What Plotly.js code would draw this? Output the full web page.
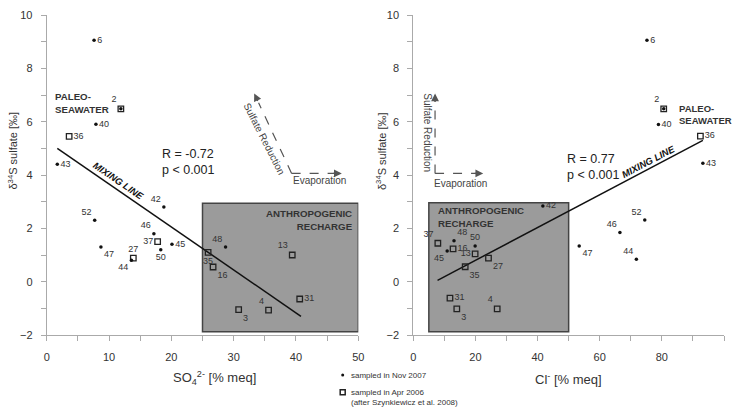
<!DOCTYPE html>
<html><head><meta charset="utf-8">
<script src="https://cdn.plot.ly/plotly-3.0.1.min.js"></script>
<style>html,body{margin:0;padding:0;background:#fff}#chart{width:732px;height:407px}</style>
</head><body><div id="chart"></div>
<script>
// ---- data: left panel (SO4) ----
const novIdsL = ['6','2','40','43','42','52','46','45','50','47','44','48'];
const novSO4  = [7.6, 11.9, 7.9, 1.7, 18.8, 7.7, 17.2, 20.1, 18.3, 8.7, 13.6, 28.7];
const novD34L = [9.05, 6.48, 5.9, 4.4, 2.8, 2.3, 1.8, 1.4, 1.2, 1.3, 0.8, 1.3];
const aprIdsL = ['2','36','37','27','35','16','13','31','3','4'];
const aprSO4  = [11.9, 3.6, 17.8, 13.9, 25.9, 26.7, 39.4, 40.6, 30.8, 35.6];
const aprD34L = [6.48, 5.45, 1.5, 0.88, 1.1, 0.55, 1.0, -0.65, -1.05, -1.07];
// ---- data: right panel (Cl) ----
const novIdsR = ['6','2','40','43','42','52','46','47','44','48','45','50'];
const novCl   = [75.2, 80.6, 78.9, 93.2, 41.7, 74.5, 66.5, 53.4, 71.8, 13.1, 10.9, 19.9];
const novD34R = [9.05, 6.48, 5.89, 4.44, 2.84, 2.31, 1.84, 1.34, 0.84, 1.53, 1.15, 1.34];
const aprIdsR = ['2','36','37','16','13','27','35','31','3','4'];
const aprCl   = [80.6, 92.4, 7.9, 12.8, 19.9, 24.2, 16.7, 11.8, 14.0, 27.0];
const aprD34R = [6.48, 5.46, 1.44, 1.23, 1.04, 0.88, 0.56, -0.62, -1.02, -1.02];
// mixing lines (end points)
const mixLX = [1.7, 40.8], mixLY = [5.0, -1.3];
const mixRX = [7.8, 93.2], mixRY = [0.05, 5.3];
const statsL = ['R = -0.72', 'p < 0.001'];
const statsR = ['R = 0.77', 'p < 0.001'];

// ---- label placement (style) ----
const novPosL = ['middle right','middle right','middle right','middle right','top left','top left','top left','middle right','bottom center','bottom right','bottom left','top left'];
const aprPosL = ['top left','middle right','middle left','top center','bottom center','bottom right','top left','middle right','bottom right','top left'];
const novPosR = ['middle right','middle right','middle right','middle right','middle right','top left','top left','bottom right','top left','top right','bottom left','top center'];
const aprPosR = ['top left','middle right','top left','middle right','middle left','bottom right','bottom right','middle right','bottom right','top left'];

const W = 732, H = 407;
const px = v => v / W, py = v => 1 - v / H;
const FAM = 'Liberation Sans, Arial, sans-serif';
const LAB = {family: FAM, size: 9, color: '#333'};
const novLabels = (ids, other) => ids.map(id => other.includes(id) ? '' : id);

function dots(x, y, ids, other, pos, xa, ya) {
  return {x, y, text: novLabels(ids, other), textposition: pos, mode: 'markers+text', type: 'scatter',
    xaxis: xa, yaxis: ya, marker: {size: 3.5, color: '#111'}, textfont: LAB, cliponaxis: false, showlegend: false, hoverinfo: 'skip'};
}
function squares(x, y, ids, pos, xa, ya) {
  return {x, y, text: ids, textposition: pos, mode: 'markers+text', type: 'scatter',
    xaxis: xa, yaxis: ya, marker: {symbol: 'square-open', size: 5.5, color: '#222', line: {width: 1.3, color: '#222'}},
    textfont: LAB, cliponaxis: false, showlegend: false, hoverinfo: 'skip'};
}
function line(x, y, xa, ya) {
  return {x, y, mode: 'lines', type: 'scatter', xaxis: xa, yaxis: ya, line: {color: '#111', width: 1.5}, showlegend: false, hoverinfo: 'skip'};
}

const traces = [
  line(mixLX, mixLY, 'x', 'y'),
  line(mixRX, mixRY, 'x2', 'y2'),
  squares(aprSO4, aprD34L, aprIdsL, aprPosL, 'x', 'y'),
  dots(novSO4, novD34L, novIdsL, aprIdsL, novPosL, 'x', 'y'),
  squares(aprCl, aprD34R, aprIdsR, aprPosR, 'x2', 'y2'),
  dots(novCl, novD34R, novIdsR, aprIdsR, novPosR, 'x2', 'y2')
];

const axisCommon = {showline: true, linecolor: '#aaa', linewidth: 1, ticks: 'outside', ticklen: 5, tickcolor: '#aaa',
  showgrid: false, zeroline: false, tickfont: {family: FAM, size: 11, color: '#333'}, fixedrange: true};
const xDom1 = [px(46.7), px(358.3)], xDom2 = [px(413.3), px(724)];
const yDom = [py(335), py(15)];
const minorY = {dtick: 1, ticks: 'outside', ticklen: 5, tickcolor: '#aaa'};

const dashLine = (x0, y0, x1, y1, xr, yr) => ({type: 'line', xref: xr, yref: yr, x0, y0, x1, y1, line: {color: '#555', width: 1.2, dash: 'dash'}});
const head = (x, y, ax, ay, xr, yr) => ({x, y, xref: xr, yref: yr, ax, ay, showarrow: true, arrowhead: 2, arrowsize: 1.3, arrowwidth: 1.2, arrowcolor: '#555', text: ''});
const BOLD = {family: FAM, size: 9.7, color: '#333', weight: 'bold'};
const TXT = {family: FAM, size: 10, color: '#444'};
const STAT = {family: FAM, size: 12.5, color: '#222'};
const note = (x, y, text, font, extra) => Object.assign({x: px(x), y: py(y), xref: 'paper', yref: 'paper', text, showarrow: false,
  xanchor: 'center', yanchor: 'middle', font}, extra || {});

const layout = {
  width: W, height: H, margin: {l: 0, r: 0, t: 0, b: 0}, paper_bgcolor: '#fff', plot_bgcolor: 'rgba(0,0,0,0)',
  showlegend: false,
  xaxis: Object.assign({}, axisCommon, {domain: xDom1, range: [0, 50], dtick: 10, tick0: 0, anchor: 'y', minor: {dtick: 5, ticks: 'outside', ticklen: 5, tickcolor: '#aaa'}, ticklabelstandoff: 7}),
  yaxis: Object.assign({}, axisCommon, {domain: yDom, range: [-2, 10], dtick: 2, tick0: 0, anchor: 'x', minor: minorY, ticklabelstandoff: 6}),
  xaxis2: Object.assign({}, axisCommon, {domain: xDom2, range: [0, 100], dtick: 20, tick0: 0, anchor: 'y2', minor: {dtick: 10, ticks: 'outside', ticklen: 5, tickcolor: '#aaa'}, ticklabelstandoff: 7}),
  yaxis2: Object.assign({}, axisCommon, {domain: yDom, range: [-2, 10], dtick: 2, tick0: 0, anchor: 'x2', minor: minorY, ticklabelstandoff: 6}),
  shapes: [
    {type: 'rect', xref: 'x', yref: 'y', x0: 25, x1: 50, y0: -1.88, y1: 2.94, fillcolor: '#9b9b9b', line: {color: '#444', width: 1.5}, layer: 'below'},
    {type: 'rect', xref: 'x2', yref: 'y2', x0: 5, x1: 50, y0: -1.88, y1: 2.96, fillcolor: '#9b9b9b', line: {color: '#444', width: 1.5}, layer: 'below'},
    dashLine(39.3, 4.06, 34.0, 6.71, 'x', 'y'),
    dashLine(39.3, 4.06, 46.5, 4.06, 'x', 'y'),
    dashLine(7.0, 4.06, 7.0, 6.8, 'x2', 'y2'),
    dashLine(7.0, 4.06, 21.5, 4.06, 'x2', 'y2'),
    // legend symbols
    {type: 'circle', xref: 'paper', yref: 'paper', x0: px(341.2), x1: px(344.2), y0: py(376.5), y1: py(373.5), fillcolor: '#111', line: {width: 0}},
    {type: 'rect', xref: 'paper', yref: 'paper', x0: px(340.2), x1: px(345.2), y0: py(394.8), y1: py(389.8), line: {color: '#222', width: 1.5}}
  ],
  annotations: [
    head(33.3, 7.06, 4.3, 9, 'x', 'y'),
    head(47.35, 4.06, -10, 0, 'x', 'y'),
    head(7.0, 7.06, 0, 10, 'x2', 'y2'),
    head(22.5, 4.06, -10, 0, 'x2', 'y2'),
    {x: 35.0, y: 5.35, xref: 'x', yref: 'y', text: 'Sulfate Reduction', showarrow: false, textangle: 63, font: TXT},
    {x: 43.7, y: 3.78, xref: 'x', yref: 'y', text: 'Evaporation', showarrow: false, font: TXT},
    {x: 4.3, y: 5.58, xref: 'x2', yref: 'y2', text: 'Sulfate Reduction', showarrow: false, textangle: 90, font: TXT},
    {x: 15.3, y: 3.7, xref: 'x2', yref: 'y2', text: 'Evaporation', showarrow: false, font: TXT},
    // stats
    {x: 18.2, y: 4.47, xref: 'x', yref: 'y', text: statsL.join('<br>'), showarrow: false, xanchor: 'left', yanchor: 'middle', align: 'left', font: STAT},
    {x: 48.8, y: 4.3, xref: 'x2', yref: 'y2', text: statsR.join('<br>'), showarrow: false, xanchor: 'left', yanchor: 'middle', align: 'left', font: STAT},
    // mixing line labels
    {x: 11.45, y: 3.78, xref: 'x', yref: 'y', text: '<i>MIXING LINE</i>', showarrow: false, textangle: 34.5, font: Object.assign({}, BOLD, {size: 9.5, color: '#111'})},
    {x: 75.6, y: 4.5, xref: 'x2', yref: 'y2', text: '<i>MIXING LINE</i>', showarrow: false, textangle: -27.7, font: Object.assign({}, BOLD, {size: 9.5, color: '#111'})},
    // region labels
    note(53, 103.5, 'PALEO-<br>SEAWATER', BOLD, {xanchor: 'left', align: 'left'}),
    note(676.5, 114, 'PALEO-<br>SEAWATER', Object.assign({}, BOLD, {size: 9.5}), {xanchor: 'left', align: 'left'}),
    note(355, 219.5, 'ANTHROPOGENIC<br>RECHARGE', BOLD, {xanchor: 'right', align: 'right'}),
    note(436, 217, 'ANTHROPOGENIC<br>RECHARGE', BOLD, {xanchor: 'left', align: 'left'}),
    // axis titles
    note(214, 378, 'SO<sub>4</sub><sup>2-</sup> [% meq]', {family: FAM, size: 13, color: '#333'}),
    note(568.5, 379, 'Cl<sup>-</sup> [% meq]', {family: FAM, size: 13, color: '#333'}),
    note(12.5, 151, 'δ<sup>34</sup>S sulfate [‰]', {family: FAM, size: 11, color: '#333'}, {textangle: -90}),
    note(381, 151, 'δ<sup>34</sup>S sulfate [‰]', {family: FAM, size: 11, color: '#333'}, {textangle: -90}),
    // legend text
    note(349, 375, 'sampled in Nov 2007', {family: FAM, size: 8, color: '#333'}, {xanchor: 'left'}),
    note(349, 397.5, 'sampled in Apr 2006<br>(after Szynkiewicz et al. 2008)', {family: FAM, size: 8, color: '#333'}, {xanchor: 'left', align: 'left'})
  ]
};

Plotly.newPlot('chart', traces, layout, {staticPlot: true, displayModeBar: false});
</script>
</body></html>
